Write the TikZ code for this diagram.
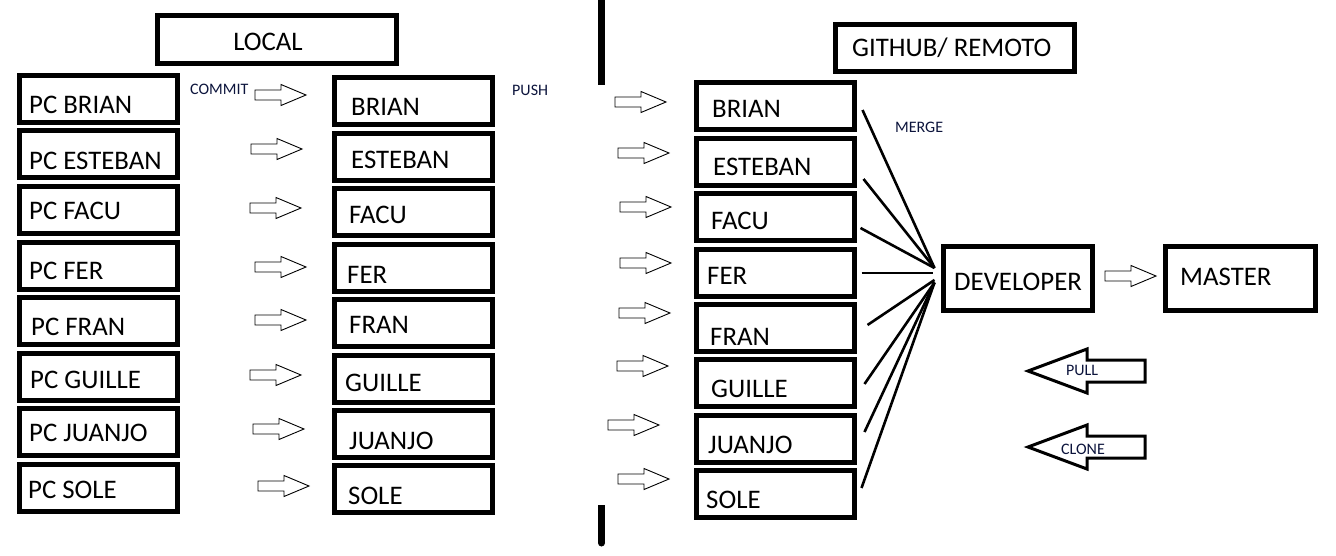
\documentclass[tikz,border=0pt]{standalone}
\usepackage{fontspec}
\setmainfont{Carlito}
\usetikzlibrary{calc}
\definecolor{lblc}{RGB}{12,20,60}
\begin{document}
\begin{tikzpicture}[x=1pt,y=-1pt,
  box/.style={draw, line width=5pt, inner sep=0pt, minimum width=158pt, minimum height=47pt},
  txt/.style={anchor=base west, inner sep=0pt, font=\fontsize{26.8}{30}\selectfont},
  lbl/.style={anchor=base west, inner sep=0pt, text=lblc, font=\fontsize{16}{18}\selectfont},
  merge/.style={line width=2.6pt},
  divider/.style={line width=7pt},
  hollow/.pic={\draw[line width=0.9pt, fill=white] (0,-5)--(26,-5)--(26,-10.5)--(51,0)--(26,10.5)--(26,5)--(0,5)--cycle;},
  bigarrow/.pic={\draw[line width=3pt, fill=white] (0,0)--(59,-22)--(59,-11)--(117,-11)--(117,11)--(59,11)--(59,22)--cycle;}
]
\useasboundingbox (0,0) rectangle (1336,555);

% titles
\node[box, minimum width=239pt, minimum height=48pt] (local) at (277,39.5) {};
\node[txt, anchor=base] (localT) at (268,50) {LOCAL};
\node[box, minimum width=239pt, minimum height=47pt] (github) at (955,48) {};
\node[txt] (githubT) at (852,56) {GITHUB/ REMOTO};

% divider
\draw[divider] (601.5,0) -- (601.5,85);
\draw[divider] (601.5,505) -- (601.5,543);
\fill (601.5,543) circle (3.5pt);

% left column
\foreach \n/\cy/\t/\tx/\bl in {L1/99/PC BRIAN/29/113, L2/154/PC ESTEBAN/29/169, L3/210/PC FACU/29/219, L4/266/PC FER/29/279, L5/321/PC FRAN/31/335, L6/377/PC GUILLE/30/388, L7/432/PC JUANJO/29/441, L8/488/PC SOLE/28/498}{
  \node[box] (\n) at (98.5,\cy) {};
  \node[txt] (\n T) at (\tx,\bl) {\t};
}
% middle column
\foreach \n/\cy/\t/\tx/\bl in {M1/101/BRIAN/351/115, M2/157/ESTEBAN/351/168, M3/212/FACU/349/223, M4/268/FER/347/283, M5/323/FRAN/349/333, M6/379/GUILLE/345/391, M7/434/JUANJO/349/449, M8/489/SOLE/348/504}{
  \node[box] (\n) at (413.5,\cy) {};
  \node[txt] (\n T) at (\tx,\bl) {\t};
}
% right column
\foreach \n/\cy/\t/\tx/\bl in {R1/106/BRIAN/712/117, R2/162/ESTEBAN/713/175, R3/217/FACU/711/229, R4/273/FER/707/284, R5/328/FRAN/710/345, R6/383/GUILLE/711/397, R7/439/JUANJO/708/453, R8/494/SOLE/706/508}{
  \node[box] (\n) at (775.5,\cy) {};
  \node[txt] (\n T) at (\tx,\bl) {\t};
}

% developer / master
\node[box, minimum width=149pt, minimum height=64pt] (dev) at (1018,278.5) {};
\node[txt] (devT) at (954,290) {DEVELOPER};
\node[box, minimum width=150pt, minimum height=64pt] (master) at (1240.5,278.5) {};
\node[txt] (masterT) at (1180,285) {MASTER};

% labels
\node[lbl] (commitL) at (190,94) {COMMIT};
\node[lbl] (pushL) at (512,95) {PUSH};
\node[lbl] (mergeL) at (895,132) {MERGE};

% commit arrows
\foreach \x/\y in {255/95, 251/149, 250/208, 255/267, 255/320, 250/375, 253/429, 258/486}
  \pic at (\x,\y) {hollow};
% push arrows
\foreach \x/\y in {615/102, 618/153, 620/207, 620/263, 619/313, 617/366, 608/425, 618/479}
  \pic at (\x,\y) {hollow};
% developer -> master
\pic at (1105,276) {hollow};

% merge lines
\coordinate (mA) at ($(dev.west)+(-6.5,-10.5)$);
\coordinate (mB) at ($(dev.west)+(-8.5,-5.5)$);
\coordinate (mC) at ($(dev.west)+(-6.5,1.5)$);
\coordinate (mD) at ($(dev.west)+(-6.5,4)$);
\draw[merge] ($(R1.east)+(5.5,4)$) -- (mA);
\draw[merge] ($(R2.east)+(6.5,17)$) -- (mA);
\draw[merge] ($(R3.east)+(3.5,11)$) -- (mA);
\draw[merge] ($(R4.east)+(4.5,0)$) -- (mB);
\draw[merge] ($(R5.east)+(10.5,-3)$) -- (mC);
\draw[merge] ($(R6.east)+(7.5,1)$) -- (mD);
\draw[merge] ($(R7.east)+(7.5,-7)$) -- (mD);
\draw[merge] ($(R8.east)+(4.5,-6)$) -- (mD);

% pull / clone
\pic at (1028,371) {bigarrow};
\node[lbl, anchor=base] (pullL) at (1082,375) {PULL};
\pic at (1028,447) {bigarrow};
\node[lbl, anchor=base] (cloneL) at (1083,454) {CLONE};
\end{tikzpicture}
\end{document}
